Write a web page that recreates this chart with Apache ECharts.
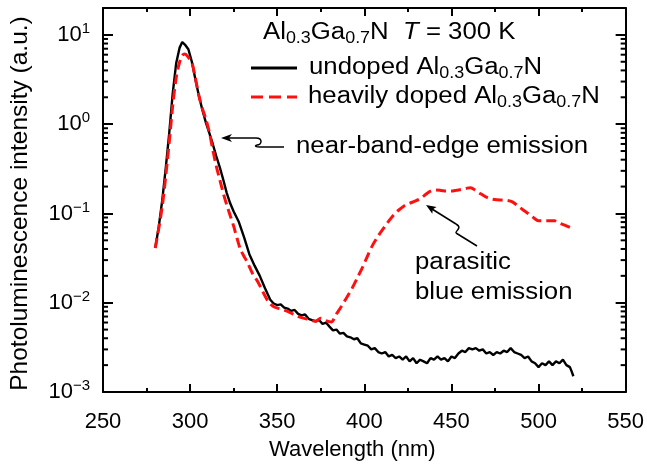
<!DOCTYPE html>
<html>
<head>
<meta charset="utf-8">
<script src="https://cdn.jsdelivr.net/npm/echarts@6/dist/echarts.min.js"></script>
<style>
html, body { margin: 0; padding: 0; background: #fff; }
#chart { width: 647px; height: 466px; }
</style>
</head>
<body>
<div id="chart"></div>
<script>
const font = "'Liberation Sans', Arial, sans-serif";

// undoped Al0.3Ga0.7N (black solid)
const undopedWavelength = [
    280, 282, 284, 286, 288, 290, 292, 294, 295.5, 297, 299, 301, 303, 305, 307, 309, 311, 313, 315, 317,
    319, 321, 323, 325, 328, 331, 334, 337, 340, 343, 346, 348, 350, 352, 354, 356, 358, 360, 362, 364,
    366, 368, 370, 372, 374, 376, 378, 380, 382, 384, 386, 388, 390, 392, 394, 396, 398, 400, 402, 404,
    406, 408, 410, 412, 414, 416, 418, 420, 422, 424, 426, 428, 430, 432, 434, 436, 438, 440, 442, 444,
    446, 448, 450, 452, 454, 456, 458, 460, 462, 464, 466, 468, 470, 472, 474, 476, 478, 480, 482, 484,
    486, 488, 490, 492, 494, 496, 498, 500, 502, 504, 506, 508, 510, 512, 514, 516, 518, 519, 520
];
const undopedIntensity = [
    0.041, 0.071, 0.14, 0.32, 0.79, 2.2, 4.8, 7.2, 8.3, 7.8, 6.9, 5.0, 3.2, 2.1, 1.45, 1.05, 0.80, 0.60, 0.44, 0.33,
    0.24, 0.17, 0.13, 0.105, 0.080, 0.054, 0.035, 0.026, 0.020, 0.0145, 0.0108, 0.0098, 0.0094, 0.0096, 0.0088, 0.0086, 0.0081, 0.0083, 0.0075, 0.0072,
    0.0074, 0.0066, 0.0064, 0.0062, 0.0064, 0.0058, 0.0060, 0.0054, 0.0049, 0.0050, 0.0045, 0.0046, 0.0042, 0.0041, 0.0039, 0.0040, 0.0035, 0.0034, 0.0033, 0.0030,
    0.0031, 0.0028, 0.0027, 0.0028, 0.0025, 0.0026, 0.0024, 0.0025, 0.0023, 0.0025, 0.0022, 0.0024, 0.0021, 0.0023, 0.0022, 0.0021, 0.0024, 0.0023, 0.0025, 0.0023,
    0.0024, 0.0022, 0.0025, 0.0024, 0.0027, 0.0029, 0.0028, 0.0031, 0.0030, 0.0031, 0.0029, 0.0030, 0.0027, 0.0028, 0.0026, 0.0028, 0.0027, 0.0029, 0.0028, 0.0031,
    0.0028, 0.0027, 0.0026, 0.0024, 0.0025, 0.0022, 0.0021, 0.0019, 0.0021, 0.0020, 0.0022, 0.0020, 0.0022, 0.0021, 0.0023, 0.0020, 0.0019, 0.0017, 0.0015
];

// heavily doped Al0.3Ga0.7N (red dashed)
const dopedWavelength = [
    280, 282, 284, 286, 288, 290, 292, 294, 295.5, 297, 299, 301, 303, 305, 307, 309, 311, 313, 315, 317,
    319, 321, 323, 325, 327, 329, 331, 333, 336, 339, 342, 345, 348, 352, 356, 360, 364, 368, 372, 375,
    378, 381, 384, 387, 390, 393, 396, 399, 402, 405, 408, 411, 414, 417, 420, 423, 426, 429, 432, 435,
    438, 441, 444, 447, 450, 453, 456, 459, 461, 464, 467, 470, 473, 476, 479, 482, 485, 488, 491, 494,
    497, 500, 503, 506, 509, 512, 515, 518
];
const dopedIntensity = [
    0.041, 0.068, 0.12, 0.26, 0.62, 1.6, 3.3, 5.0, 5.9, 6.1, 5.6, 4.9, 3.3, 2.1, 1.5, 1.15, 0.82, 0.52, 0.34, 0.24,
    0.17, 0.125, 0.095, 0.072, 0.052, 0.039, 0.033, 0.028, 0.021, 0.017, 0.013, 0.0102, 0.0090, 0.0085, 0.0080, 0.0073, 0.0068, 0.0065, 0.0062, 0.0067,
    0.0063, 0.0061, 0.0075, 0.0092, 0.0115, 0.0145, 0.019, 0.025, 0.034, 0.045, 0.056, 0.068, 0.082, 0.097, 0.110, 0.122, 0.130, 0.137, 0.146, 0.162,
    0.178, 0.183, 0.181, 0.178, 0.178, 0.182, 0.186, 0.192, 0.194, 0.180, 0.165, 0.152, 0.145, 0.142, 0.141, 0.140, 0.135, 0.122, 0.110, 0.100,
    0.090, 0.083, 0.083, 0.083, 0.083, 0.078, 0.074, 0.070
];

// log minor ticks: 2..9 within each decade
const decades = [0.001, 0.01, 0.1, 1, 10];
const minorSteps = [2, 3, 4, 5, 6, 7, 8, 9];

const seriesNames = ["undoped", "doped"];
const legendLabels = [
    "{n|undoped Al}{s|0.3}{n|Ga}{s|0.7}{n|N}",
    "{n|heavily doped Al}{s|0.3}{n|Ga}{s|0.7}{n|N}"
];

const textRich = {
    n: { fontSize: 23, fontFamily: font, color: "#000" },
    i: { fontSize: 23, fontFamily: font, color: "#000", fontStyle: "italic" },
    s: { fontSize: 16, fontFamily: font, color: "#000", padding: [11, 0, 0, 0] }
};

const zip = (xs, ys) => xs.map((x, i) => [x, ys[i]]);
const minorTicks = [];
decades.forEach(d => minorSteps.forEach(k => { if (d * k < 20) minorTicks.push([250, d * k]); }));

function isPow10(v) {
    const e = Math.log10(v);
    return Math.abs(e - Math.round(e)) < 1e-6;
}

const xAxisBase = {
    type: "value",
    min: 250,
    max: 550,
    interval: 50,
    axisLine: { lineStyle: { color: "#000", width: 2 } },
    axisTick: { inside: true, length: 8, lineStyle: { color: "#000", width: 2 } },
    minorTick: { show: true, splitNumber: 2, length: 4, lineStyle: { color: "#000", width: 2 } },
    splitLine: { show: false }
};

const yAxisBase = {
    type: "log",
    logBase: 10,
    min: 0.001,
    max: 20,
    axisLine: { show: true, lineStyle: { color: "#000", width: 2 } },
    axisTick: { inside: true, length: 10, lineStyle: { color: "#000", width: 2 } },
    splitLine: { show: false }
};

// texts in the reference are slightly wider than Liberation Sans
const annoText = (text, x, y) => ({
    type: "text", x, y, scaleX: 1.12, originX: 0, originY: 0,
    style: { text, font: `23px ${font}`, fill: "#000", verticalAlign: "middle" }
});
const richText = (text, x, y) => ({
    type: "text", x, y, scaleX: 1.12, originX: 0, originY: 0,
    style: { text, rich: textRich, verticalAlign: "middle" }
});
const stroke = { fill: null, stroke: "#000", lineWidth: 1.5 };

const chart = echarts.init(document.getElementById("chart"));

chart.setOption({
    animation: false,
    backgroundColor: "#fff",
    grid: { left: 100, right: 19, top: 8, bottom: 68 },
    xAxis: [
        Object.assign({}, xAxisBase, {
            position: "bottom",
            name: "Wavelength (nm)",
            nameLocation: "middle",
            nameGap: 47,
            nameTextStyle: { fontFamily: font, fontSize: 22, color: "#000", padding: [0, 24, 0, 0] },
            axisLabel: { fontFamily: font, fontSize: 22, color: "#000", margin: 19 }
        }),
        Object.assign({}, xAxisBase, { position: "top", axisLabel: { show: false } })
    ],
    yAxis: [
        Object.assign({}, yAxisBase, {
            position: "left",
            name: "Photoluminescence intensity (a.u.)",
            nameLocation: "middle",
            nameGap: 70,
            nameTextStyle: { fontFamily: font, fontSize: 24.5, color: "#000", padding: [0, 7, 0, 0] },
            axisLabel: {
                margin: 13,
                formatter: v => isPow10(v) ? `{b|10}{p|${Math.round(Math.log10(v)).toString().replace("-", "−")}}` : "",
                rich: {
                    b: { fontFamily: font, fontSize: 22, color: "#000" },
                    p: { fontFamily: font, fontSize: 15, color: "#000", padding: [0, 0, 12, 0] }
                }
            }
        }),
        Object.assign({}, yAxisBase, { position: "right", axisLabel: { show: false } })
    ],
    series: [
        {
            name: seriesNames[0],
            type: "line",
            symbol: "none",
            data: zip(undopedWavelength, undopedIntensity),
            lineStyle: { color: "#000", width: 2.4 },
            z: 2
        },
        {
            name: seriesNames[1],
            type: "line",
            symbol: "none",
            smooth: 0.3,
            data: zip(dopedWavelength, dopedIntensity),
            lineStyle: { color: "#ff1010", width: 3, type: [10, 5] },
            z: 3
        },
        {
            name: "minor",
            type: "custom",
            silent: true,
            data: minorTicks,
            renderItem: (params, api) => {
                const left = api.coord([250, api.value(1)]);
                const right = api.coord([550, api.value(1)]);
                return {
                    type: "group",
                    children: [
                        { type: "line", shape: { x1: left[0], y1: left[1], x2: left[0] + 5, y2: left[1] }, style: { stroke: "#000", lineWidth: 2 } },
                        { type: "line", shape: { x1: right[0] - 5, y1: right[1], x2: right[0], y2: right[1] }, style: { stroke: "#000", lineWidth: 2 } }
                    ]
                };
            }
        }
    ],
    graphic: [
        richText("{n|Al}{s|0.3}{n|Ga}{s|0.7}{n|N  }{i|T}{n| = 300 K}", 263, 33),
        // legend
        { type: "line", shape: { x1: 251, y1: 68, x2: 297, y2: 68 }, style: { stroke: "#000", lineWidth: 3 } },
        { type: "line", shape: { x1: 251, y1: 97, x2: 297, y2: 97 }, style: { stroke: "#ff1010", lineWidth: 3, lineDash: [12, 6] } },
        richText(legendLabels[0], 309, 68),
        richText(legendLabels[1], 308, 97),
        // annotations
        annoText("near-band-edge emission", 296, 147),
        annoText("parasitic", 415, 263),
        annoText("blue emission", 415, 293),
        { type: "polyline", shape: { points: [[228, 138], [256, 138]] }, style: stroke },
        { type: "bezierCurve", shape: { x1: 256, y1: 138, cpx1: 263, cpy1: 138, cpx2: 262, cpy2: 145, x2: 257, y2: 145 }, style: stroke },
        { type: "bezierCurve", shape: { x1: 257, y1: 145, cpx1: 254, cpy1: 146, cpx2: 256, cpy2: 147, x2: 260, y2: 147 }, style: stroke },
        { type: "polyline", shape: { points: [[260, 147], [284, 147]] }, style: stroke },
        { type: "polygon", shape: { points: [[221, 138], [232, 134], [229, 138], [232, 142]] }, style: { fill: "#000" } },
        { type: "polyline", shape: { points: [[432, 209], [456, 224]] }, style: stroke },
        { type: "bezierCurve", shape: { x1: 456, y1: 224, cpx1: 463, cpy1: 228, cpx2: 455, cpy2: 231, x2: 456, y2: 233 }, style: stroke },
        { type: "polyline", shape: { points: [[456, 233], [477, 246]] }, style: stroke },
        { type: "polygon", shape: { points: [[426, 205], [436.6, 207], [432.8, 209.3], [432.3, 213.8]] }, style: { fill: "#000" } }
    ]
});
</script>
</body>
</html>
